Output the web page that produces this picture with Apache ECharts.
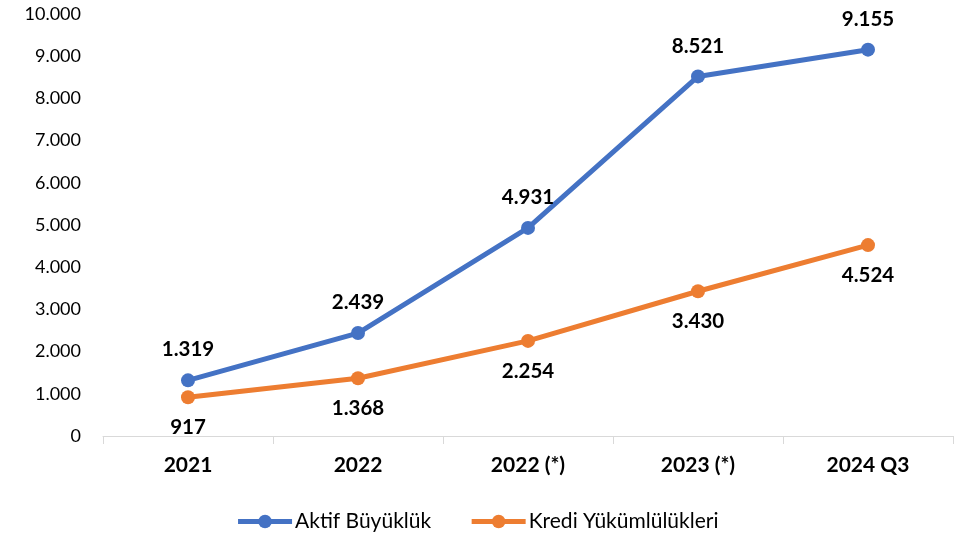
<!DOCTYPE html>
<html><head><meta charset="utf-8">
<script src="https://cdn.jsdelivr.net/npm/echarts@6/dist/echarts.min.js"></script>
<style>html,body{margin:0;padding:0;background:#fff}#c{width:954px;height:534px}</style>
</head><body><div id="c"></div>
<script>
const categories = ['2021', '2022', '2022 (*)', '2023 (*)', '2024 Q3'];
const aktif = [1319, 2439, 4931, 8521, 9155];
const kredi = [917, 1368, 2254, 3430, 4524];
const seriesNames = ['Aktif Büyüklük', 'Kredi Yükümlülükleri'];
const fmt = v => String(v).replace(/\B(?=(\d{3})+(?!\d))/g, '.');
const FONT = 'Lato, "Open Sans", sans-serif';
const chart = echarts.init(document.getElementById('c'));
chart.setOption({
  animation: false,
  textStyle: {fontFamily: FONT},
  grid: {left: 103, right: 1, top: 14, bottom: 98, containLabel: false},
  legend: {
    top: 506, left: 'center', itemWidth: 54, itemHeight: 17, itemGap: 38,
    lineStyle: {width: 5},
    textStyle: {fontSize: 21, color: '#000', fontFamily: FONT, padding: [0, 0, 0, -2]},
    data: seriesNames
  },
  xAxis: {
    type: 'category', data: categories, boundaryGap: true,
    axisLine: {lineStyle: {color: '#D9D9D9', width: 1}},
    axisTick: {show: true, length: 8, lineStyle: {color: '#D9D9D9'}},
    axisLabel: {fontSize: 21, fontWeight: 'bold', color: '#000', margin: 19, fontFamily: FONT}
  },
  yAxis: {
    type: 'value', min: 0, max: 10000, interval: 1000,
    splitLine: {show: false}, axisLine: {show: false}, axisTick: {show: false},
    axisLabel: {fontSize: 18, color: '#000', margin: 22, formatter: fmt, fontFamily: FONT}
  },
  series: [
    {name: seriesNames[0], type: 'line', data: aktif, symbol: 'circle', symbolSize: 14,
     lineStyle: {width: 5, color: '#4472C4'}, itemStyle: {color: '#4472C4'},
     label: {show: true, position: 'top', distance: 13, fontSize: 20.5, fontWeight: 'bold', color: '#000', formatter: p => fmt(p.value), fontFamily: FONT}},
    {name: seriesNames[1], type: 'line', data: kredi, symbol: 'circle', symbolSize: 14,
     lineStyle: {width: 5, color: '#ED7D31'}, itemStyle: {color: '#ED7D31'},
     label: {show: true, position: 'bottom', distance: 13, fontSize: 20.5, fontWeight: 'bold', color: '#000', formatter: p => fmt(p.value), fontFamily: FONT}}
  ]
});
</script></body></html>
